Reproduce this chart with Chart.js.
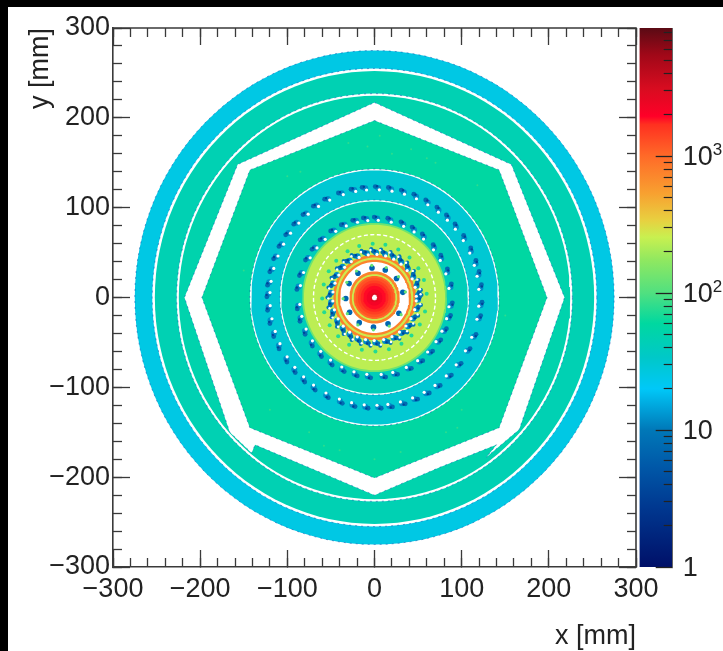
<!DOCTYPE html>
<html>
<head>
<meta charset="utf-8">
<script src="https://cdn.jsdelivr.net/npm/chart.js@4"></script>
<style>
html,body{margin:0;padding:0;background:#000;width:723px;height:651px;overflow:hidden}
#panel{position:absolute;left:8px;top:7px;width:715px;height:644px;background:#fff}
canvas{position:absolute;top:0;filter:blur(0.55px)}
#main{left:0}
#bar{left:620px}
</style>
</head>
<body>
<div id="panel"></div>
<canvas id="main" width="723" height="651"></canvas>
<canvas id="bar" width="103" height="651"></canvas>
<script>
// ---------- values ----------
const axisTicks = [-300, -200, -100, 0, 100, 200, 300];
const axisTickLabels = ['\u2212300', '\u2212200', '\u2212100', '0', '100', '200', '300'];
const colorDecades = [1, 10, 100, 1000];
const colorDecadeLabels = ['1', '10', '10', '10'];
const colorExponents = ['', '', '2', '3'];
const colorMinors = [2,3,4,5,6,7,8,9,20,30,40,50,60,70,80,90,200,300,400,500,600,700,800,900,2000,3000,4000,5000,6000,7000,8000];
const colorMax = 8600;

// palette: value -> colour
const paletteValues = [1, 2.74, 5.4, 10, 20, 34, 60, 100, 174, 255, 340, 537, 1000, 1700, 1950, 3100, 5500, 8600];
const paletteColors = ['#001068','#003890','#0058a8','#0078b8','#00c8f8','#00c8c8','#00d8a0','#50e080','#90e860','#c8f050','#e8d040','#f8a030','#ff6a28','#ff3020','#ff0028','#d80c20','#a00818','#5a0a14'];

// outer detector rings (radius mm, contents); null = empty
const outerRadii = [275, 255, 252, 227, 224.5];
const outerValues = [25, null, 46, null, 50];

// empty octagonal band and the filled octagon inside it
const bandX = [0, 157, 218, 166, 128, 140, 75, 0, -137, -141, -166, -218, -157, 0];
const bandY = [217, 148, 0, -147, -178, -164, -189, -220, -164, -173, -150, 0, 148, 217];
const octX = [0, 143, 198, 143, 0, -143, -198, -143, 0];
const octY = [197, 142, 0, -145, -201, -145, 0, 142, 197];
const octValue = 58;

// inner rings, outermost first
const innerRadii = [143, 141.5, 108.5, 107, 83, 81, 47.5, 44.5, 42, 39.5, 29, 26, 24, 22, 19, 16, 13, 9, 5, 3];
const innerValues = [null, 30, null, 42, 130, 235, 750, 270, 750, null, 750, 260, 1000, 1250, 1500, 1750, 1900, 2200, 2800, null];
const dashedRadius = [70];

// low-occupancy spots: angle in degrees around each ring
const spotAngles122 = [5,12,18,25,32.5,40,46.5,53,60,67,74,81,88,95,101,108,116,123,130,137,144,151,158,165,172,178,185,192,199,206,214,221,228,235,243,251,258,265,272,278,285,292,299,306,314,322,331,339,349,356];
const spotAngles88 = [7.6,18.7,29.6,39,50,59,68,78,88,96,104,113,122,132,141,150,162,172,186,195,205,215,225,235,245,255,265,276,285,296,306,316,326,335,345,354];
const spotAngles50 = [3,15,27,40,52,64,76,88,100,113,125,137,150,162,174,186,198,211,223,235,247,259,271,284,296,308,320,332,345,357];
const dotAngles60 = [4,19,33,48,63,78,92,107,121,137,151,166,181,196,211,226,241,256,271,286,301,315,330,345];
const spotAngles33 = [10,40,68,95,125,152,182,210,238,268,298,328];

// faint brighter specks on the octagon
const speckX = [-8, 6, 20, -30, 42, 60, -58, -75, 82, 100, -100, 118, -120, 30, -40, 70, -85, 95, 0, -150, 150];
const speckY = [168, 180, 160, 172, 165, 155, -165, -150, -150, -125, 135, 125, -125, -172, -170, 150, 140, -145, -180, 30, -20];

// ---------- helpers ----------
function hex(c){return [1,3,5].map(i=>parseInt(c.substr(i,2),16));}
function colourOf(v){
  if(v===null) return '#ffffff';
  const l=Math.log10(v);
  for(let i=1;i<paletteValues.length;i++){
    if(v<=paletteValues[i]){
      const a=Math.log10(paletteValues[i-1]),b=Math.log10(paletteValues[i]),t=(l-a)/(b-a);
      const p=hex(paletteColors[i-1]),q=hex(paletteColors[i]);
      return 'rgb('+p.map((x,k)=>Math.round(x+(q[k]-x)*t)).join(',')+')';
    }
  }
  return paletteColors[paletteColors.length-1];
}
function polar(r,a){const d=a*Math.PI/180;return {x:r*Math.cos(d),y:r*Math.sin(d)};}
function outline(r){const pts=[];for(let a=0;a<=360;a+=3)pts.push(polar(r,a));return pts;}
const EDGE='rgba(10,70,170,0.55)';
function shape(points,value,edge){
  return {data:points,showLine:true,fill:'shape',backgroundColor:colourOf(value),
    borderColor:edge?EDGE:'rgba(0,0,0,0)',borderWidth:edge?0.9:0,borderDash:edge?[2,4]:[],pointRadius:0,tension:0};
}
function spots(points,value,size){
  return {data:points,showLine:false,pointRadius:size,pointBorderWidth:0,
    pointBackgroundColor:colourOf(value),backgroundColor:colourOf(value)};
}
function ringSpots(angles,r,value,size,shift){return spots(angles.map(a=>polar(r,a+(shift||0))),value,size);}
const layers=[];
outerRadii.forEach((r,i)=>layers.push(shape(outline(r),outerValues[i],i<2||outerValues[i]===null)));
layers.push(shape(bandX.map((x,i)=>({x,y:bandY[i]})),null,true));
layers.push(shape(octX.map((x,i)=>({x,y:octY[i]})),octValue,true));
layers.push(spots(speckX.map((x,i)=>({x,y:speckY[i]})),80,1));
innerRadii.forEach((r,i)=>layers.push(shape(outline(r),innerValues[i],innerValues[i]===null&&r>100)));
dashedRadius.forEach(r=>layers.push({data:outline(r),showLine:true,fill:false,borderColor:'#ffffff',borderWidth:1.4,borderDash:[4,2.5],pointRadius:0}));
layers.push(ringSpots(dotAngles60,60,75,2));
[[spotAngles122,122,1.6],[spotAngles88,88,2.2],[spotAngles50,50,3.4]].forEach(([a,r,sh])=>{
  layers.push(ringSpots(a,r,12,3));
  layers.push(ringSpots(a,r+1.5,8,2.4,sh));
  layers.push(ringSpots(a,r+1.8,3.5,1.2,sh*0.4));
  layers.push(ringSpots(a,r-2,null,1.6,-sh*0.4));
});
layers.push(ringSpots(spotAngles50,54,10,2,6));
layers.push(ringSpots(spotAngles50,53,null,1.2,7));
layers.push(ringSpots(spotAngles33,33,7,2.8));
layers.push(ringSpots(spotAngles33,36,120,1.6));

// ---------- main plot ----------
const INK='#3a3a3a', TXT='#222222', FONT='"Liberation Sans", Arial, sans-serif';
function tickAxis(axis,pos,step,len){
  return {type:'linear',axis,min:-300,max:300,position:pos,
    ticks:{display:false,stepSize:step,autoSkip:false},
    grid:{drawOnChartArea:false,drawTicks:true,tickLength:len,tickColor:INK,tickWidth:1.3},
    border:{display:false}};
}
new Chart(document.getElementById('main'),{
  type:'scatter',
  data:{datasets:layers.slice().reverse()},
  options:{
    responsive:false,animation:false,events:[],
    layout:{padding:{top:28,right:87,left:0,bottom:0}},
    plugins:{legend:{display:false},tooltip:{enabled:false}},
    scales:{
      x:{type:'linear',min:-300,max:300,position:'bottom',
        afterFit:s=>{s.height=84;},
        afterBuildTicks:s=>{s.ticks=axisTicks.map(value=>({value}));},
        ticks:{autoSkip:false,maxRotation:0,minRotation:0,padding:23,color:TXT,font:{family:FONT,size:27},
          callback:v=>axisTickLabels[axisTicks.indexOf(v)]},
        grid:{drawOnChartArea:false,drawTicks:true,tickLength:-17,tickColor:INK,tickWidth:1.3},
        border:{display:true,color:INK,width:1.6},
        title:{display:true,text:'x [mm]',align:'end',color:TXT,font:{family:FONT,size:27},padding:{top:0,bottom:-2}}},
      y:{type:'linear',min:-300,max:300,position:'left',
        afterFit:s=>{s.width=113;s.paddingTop=0;s.paddingBottom=0;},
        afterBuildTicks:s=>{s.ticks=axisTicks.map(value=>({value}));},
        ticks:{autoSkip:false,padding:20,color:TXT,font:{family:FONT,size:27},
          callback:v=>axisTickLabels[axisTicks.indexOf(v)]},
        grid:{drawOnChartArea:false,drawTicks:true,tickLength:-17,tickColor:INK,tickWidth:1.3},
        border:{display:true,color:INK,width:1.6},
        title:{display:true,text:'y [mm]',align:'end',color:TXT,font:{family:FONT,size:27},padding:{top:24,bottom:0}}},
      xb:tickAxis('x',{y:-300},20,-9),
      xt:tickAxis('x',{y:300},20,9),
      xT:tickAxis('x',{y:300},100,17),
      yl:tickAxis('y',{x:-300},20,-9),
      yr:tickAxis('y',{x:300},20,9),
      yR:tickAxis('y',{x:300},100,17)
    }
  },
  plugins:[{id:'frame',afterDraw(c){const a=c.chartArea,g=c.ctx;g.save();g.strokeStyle=INK;g.lineWidth=1.6;
    g.beginPath();g.moveTo(a.left,a.top);g.lineTo(a.right,a.top);g.lineTo(a.right,a.bottom);g.stroke();g.restore();}}]
});

// ---------- colour bar ----------
new Chart(document.getElementById('bar'),{
  type:'bar',
  data:{labels:['z'],datasets:[{data:[[1,colorMax]],categoryPercentage:1,barPercentage:1,borderWidth:0,
    backgroundColor:ctx=>{
      const s=ctx.chart.scales.y; if(!s) return '#00c8c8';
      const y0=s.getPixelForValue(1),y1=s.getPixelForValue(colorMax);
      if(!isFinite(y0)||!isFinite(y1)) return '#00c8c8';
      const g=ctx.chart.ctx.createLinearGradient(0,y0,0,y1);
      const top=Math.log10(colorMax);
      paletteValues.forEach((v,i)=>g.addColorStop(Math.log10(v)/top,paletteColors[i]));
      return g;
    }}]},
  options:{
    responsive:false,animation:false,events:[],
    layout:{padding:{top:28,bottom:84,left:19.5,right:0}},
    plugins:{legend:{display:false},tooltip:{enabled:false}},
    scales:{
      x:{display:false},
      ym:{type:'logarithmic',axis:'y',min:1,max:colorMax,position:'right',weight:1,
        afterFit:s=>{s.width=0;},
        afterBuildTicks:s=>{s.ticks=colorMinors.map(value=>({value}));},
        ticks:{display:false,autoSkip:false},
        grid:{z:2,drawOnChartArea:false,drawTicks:true,tickLength:-9,tickColor:'#222',tickWidth:1.2},
        border:{display:false}},
      y:{type:'logarithmic',min:1,max:colorMax,position:'right',weight:2,
        afterFit:s=>{s.width=50.3;s.paddingTop=0;s.paddingBottom=0;},
        afterBuildTicks:s=>{s.ticks=colorDecades.map(value=>({value}));},
        ticks:{autoSkip:false,padding:27,crossAlign:'near',labelOffset:2,color:TXT,font:{family:FONT,size:27},
          callback:v=>colorDecadeLabels[colorDecades.indexOf(v)]},
        grid:{z:2,drawOnChartArea:false,drawTicks:true,tickLength:-17,tickColor:'#222',tickWidth:1.3},
        border:{z:2,display:true,color:'#666',width:1}}
    }
  },
  plugins:[{id:'exponents',afterDraw(c){const s=c.scales.y,g=c.ctx;g.save();g.fillStyle=TXT;
    g.font='17px '+FONT;g.textAlign='left';g.textBaseline='middle';
    colorDecades.forEach((v,i)=>{if(colorExponents[i])g.fillText(colorExponents[i],c.chartArea.right+40,s.getPixelForValue(v)-6);});
    g.restore();}}]
});
</script>
</body>
</html>
